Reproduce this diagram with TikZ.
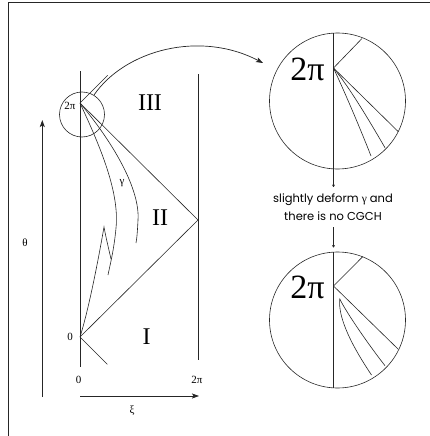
\documentclass[tikz,border=0pt]{standalone}
\usepackage{fontspec}
\setmainfont{Liberation Serif}
\newfontfamily\geosans{Poppins}
\usetikzlibrary{arrows.meta}
\tikzset{
  ln/.style={line width=0.6pt, draw=black!85},
  frameline/.style={line width=0.9pt, draw=black!85},
  bigarrow/.style={ln, line width=0.7pt, -{Stealth[length=7pt,width=5pt,inset=1.5pt]}},
  smallarrow/.style={ln, line width=0.5pt, -{To[length=2.5pt,width=3pt]}},
  smalllabel/.style={font=\fontsize{11}{13}\selectfont, inner sep=0pt},
  roman/.style={font=\fontsize{24}{28}\selectfont, inner sep=0pt},
  biglabel/.style={font=\fontsize{34}{40}\selectfont, inner sep=0pt},
  note/.style={font=\geosans\fontsize{11.5}{18.5}\selectfont, align=center, inner sep=0pt}
}
\begin{document}
\begin{tikzpicture}[x=1pt,y=-1pt]
\useasboundingbox (0,0) rectangle (430,436);
% frame (top and left only)
\coordinate (fTR) at (430,2);
\coordinate (fTL) at (8,2);
\coordinate (fBL) at (8,436);
\draw[frameline] (fTR) -- (fTL) -- (fBL);

% --- left diagram ---
\coordinate (v) at (80,103);
\coordinate (o) at (80,337);
\coordinate (m) at (198,220);
\coordinate (L0t) at (80,71);
\coordinate (L0b) at (80,367);
\coordinate (L2t) at (198,74);
\coordinate (L2b) at (198,360);
\draw[ln] (L0t) -- (L0b);
\draw[ln] (L2t) -- (L2b);
\coordinate (vUR) at (107.7,75.3);
\draw[ln] (v) -- (vUR);
\draw[ln] (o) -- (m) -- (v);
\coordinate (oDR) at (107.3,364.3);
\draw[ln] (o) -- (oDR);
\node[draw=black!85, line width=0.6pt, circle, minimum size=45pt, inner sep=0pt] (cl) at (82,114.5) {};

% curves gamma
\coordinate (c1m) at (116,228);
\coordinate (c1e) at (108,275);
\draw[ln] (v) .. controls (97,140) and (120,190) .. (c1m) .. controls (114,250) and (110,265) .. (c1e);
\coordinate (c2m) at (138,220);
\coordinate (c2e) at (136,243);
\draw[ln] (v) .. controls (115,145) and (140,190) .. (c2m) .. controls (137.5,230) and (137,238) .. (c2e);
\coordinate (pk) at (104,227);
\coordinate (pe) at (111,259);
\draw[ln] (o) .. controls (90,305) and (100,250) .. (pk) .. controls (106,238) and (109,250) .. (pe);

% curved arrow to magnified view
\coordinate (arS) at (94,95);
\coordinate (arE) at (263,63);
\draw[bigarrow] (arS) .. controls (125,50) and (200,30) .. (arE);

% labels
\node[smalllabel] (l2pi) at (70,106) {2π};
\node[smalllabel] (l0) at (70,337) {0};
\node[smalllabel] (b0) at (78.5,380) {0};
\node[smalllabel] (b2pi) at (197,380) {2π};
\node[smalllabel] (gam) at (122,183) {γ};
\node[roman] (r3) at (150,103) {III};
\node[roman] (r2) at (160,218) {II};
\node[roman] (r1) at (146.5,337) {I};

% axes
\coordinate (xiS) at (80,396);
\coordinate (xiE) at (199,396);
\draw[bigarrow] (xiS) -- (xiE);
\node[smalllabel] (xil) at (132,411) {ξ};
\coordinate (thS) at (42.3,397);
\coordinate (thE) at (42.3,120);
\draw[bigarrow, line width=0.9pt] (thS) -- (thE);
\node[smalllabel] (thl) at (25,243) {θ};

% --- top magnified circle ---
\node[draw=black!85, line width=0.6pt, circle, minimum size=136pt, inner sep=0pt] (C1) at (337.5,101) {};
\coordinate (t1) at (333.5,33.1);
\coordinate (b1) at (333.5,168.9);
\coordinate (V1) at (333.5,68);
\draw[ln] (t1) -- (b1);
\coordinate (V1ur) at (362,38.5);
\coordinate (V1d) at (398.3,131.7);
\coordinate (V1c1) at (385,147.7);
\coordinate (V1c2) at (371,156);
\draw[ln] (V1) -- (V1ur);
\draw[ln] (V1) -- (V1d);
\draw[ln] (V1) .. controls (350,88) and (370,122) .. (V1c1);
\draw[ln] (V1) .. controls (346,95) and (360,128) .. (V1c2);
\node[biglabel] (big1) at (307.5,69) {2π};

% arrows and note
\coordinate (a1e) at (333.5,187);
\draw[smallarrow] (b1) -- (a1e);
\node[note] (txt) at (333,207) {slightly deform {\rmfamily γ} and\\there is no CGCH};
\coordinate (a2s) at (333.5,227);
\coordinate (t2) at (333.5,252.1);
\coordinate (a2e) at (333.5,247.5);
\draw[smallarrow] (a2s) -- (a2e);

% --- bottom magnified circle ---
\node[draw=black!85, line width=0.6pt, circle, minimum size=136pt, inner sep=0pt] (C2) at (337.5,320) {};
\coordinate (b2) at (333.5,387.9);
\coordinate (V2) at (333.5,286);
\draw[ln] (t2) -- (b2);
\coordinate (V2ur) at (362.7,256.7);
\coordinate (V2d) at (398.3,349.3);
\draw[ln] (V2) -- (V2ur);
\draw[ln] (V2) -- (V2d);
\coordinate (tip) at (339.8,299);
\coordinate (tipA) at (385,365.7);
\coordinate (tipB) at (371.5,375);
\draw[ln] (tipA) .. controls (365,340) and (345,310) .. (tip) .. controls (338,315) and (348,340) .. (tipB);
\node[biglabel] (big2) at (307.5,287.5) {2π};
\end{tikzpicture}
\end{document}
